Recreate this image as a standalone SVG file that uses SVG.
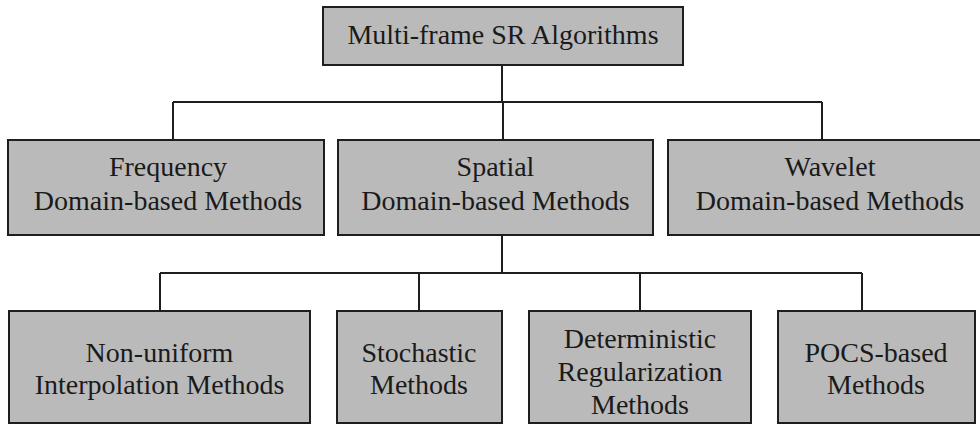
<svg xmlns="http://www.w3.org/2000/svg" width="980" height="424" viewBox="0 0 980 424">
  <style>
    .box { fill: #bababa; stroke: #1e1e1e; stroke-width: 2; }
    .lbl { font-family: "Liberation Serif", "Times New Roman", serif; font-size: 28px; fill: #1a1a1a; text-anchor: middle; }
    .wire { fill: none; stroke: #1e1e1e; stroke-width: 2; }
  </style>
  <rect x="0" y="0" width="980" height="424" fill="#ffffff"/>

  <g id="connectors">
    <path class="wire" d="M502,65 V102 M173,102 H822 M173,102 V140 M503,102 V140 M822,102 V140"/>
    <path class="wire" d="M502,235 V273 M160,273 H862 M160,273 V311 M419,273 V311 M640,273 V311 M862,273 V311"/>
  </g>

  <g id="root">
    <rect class="box" x="323" y="7" width="360" height="58"/>
    <text class="lbl" x="503" y="44">Multi-frame SR Algorithms</text>
  </g>

  <g id="frequency">
    <rect class="box" x="8" y="140" width="316" height="95"/>
    <text class="lbl" x="168" y="176">Frequency</text>
    <text class="lbl" x="168" y="210">Domain-based Methods</text>
  </g>

  <g id="spatial">
    <rect class="box" x="338" y="140" width="315" height="95"/>
    <text class="lbl" x="495.5" y="176">Spatial</text>
    <text class="lbl" x="495.5" y="210">Domain-based Methods</text>
  </g>

  <g id="wavelet">
    <rect class="box" x="668" y="140" width="330" height="95"/>
    <text class="lbl" x="830" y="176">Wavelet</text>
    <text class="lbl" x="830" y="210">Domain-based Methods</text>
  </g>

  <g id="nonuniform">
    <rect class="box" x="9" y="311" width="301" height="112"/>
    <text class="lbl" x="159.5" y="362">Non-uniform</text>
    <text class="lbl" x="159.5" y="394">Interpolation Methods</text>
  </g>

  <g id="stochastic">
    <rect class="box" x="337" y="311" width="165" height="112"/>
    <text class="lbl" x="419" y="362">Stochastic</text>
    <text class="lbl" x="419" y="394">Methods</text>
  </g>

  <g id="deterministic">
    <rect class="box" x="529" y="311" width="222" height="112"/>
    <text class="lbl" x="640" y="348">Deterministic</text>
    <text class="lbl" x="640" y="381">Regularization</text>
    <text class="lbl" x="640" y="414">Methods</text>
  </g>

  <g id="pocs">
    <rect class="box" x="778" y="311" width="197" height="112"/>
    <text class="lbl" x="876" y="362">POCS-based</text>
    <text class="lbl" x="876" y="394">Methods</text>
  </g>
</svg>
